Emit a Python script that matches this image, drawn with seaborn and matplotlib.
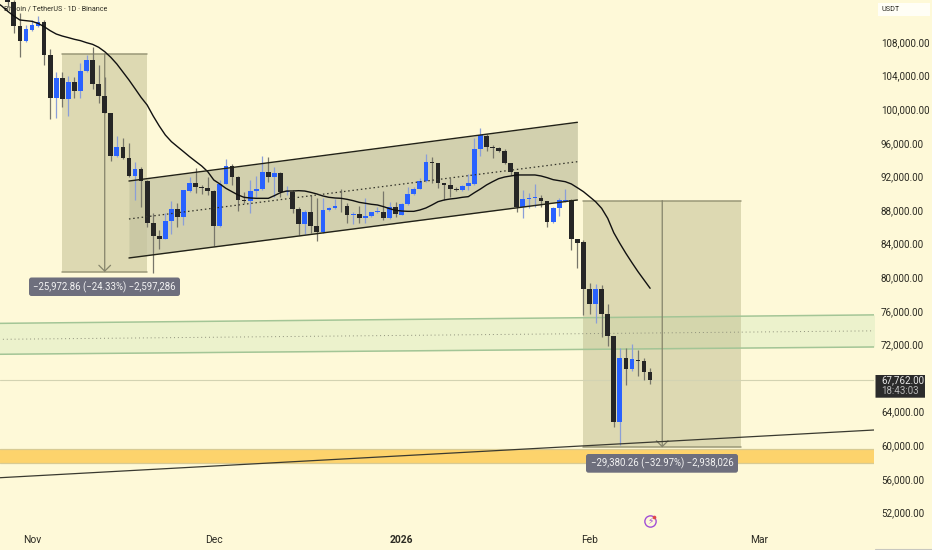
import matplotlib
matplotlib.use("Agg")
import matplotlib.pyplot as plt
from matplotlib.patches import Rectangle, FancyBboxPatch
import numpy as np
import pandas as pd
import seaborn as sns

# daily candles, first bar is 28 Oct 2025
opens = [113300,112800,109900,108160,109430,109950,110380,106450,101330,103750,
         101180,103200,102210,104590,105900,102960,101530,99590,94470,95500,
         94150,92050,92840,91410,86490,84950,84590,86690,88160,87210,
         90300,91210,90740,90660,90220,86140,91140,93280,91930,89190,
         89070,90260,90460,92560,91930,92410,90100,90180,88080,86300,
         87720,86100,85340,88000,88240,88520,88480,87370,87530,87050,
         87250,87720,87800,87050,88320,87450,88720,89910,90540,91450,
         93760,93640,91180,90940,90540,90380,90900,91100,95300,96810,
         95500,95380,95060,93560,92490,88320,89310,89390,89470,89030,
         86530,88200,89070,89190,84510,84150,78600,76810,78600,75620,
         73000,62800,70420,69110,70180,69980,68680]
closes = [112800,109900,108160,109510,109980,110420,106450,101330,103750,101180,
          103200,102210,104590,105900,102960,101530,99590,94470,95500,94150,
          92050,92840,91410,86490,84950,84590,86690,88160,87210,90380,
          91210,90740,90620,90220,86140,91140,93280,91930,89190,89070,
          90260,90460,92560,91930,92410,90100,90250,88090,86300,87720,
          86100,85340,88000,88240,88520,88440,87370,87530,87050,87250,
          87720,87880,87050,88320,87530,88720,89910,90540,91450,93760,
          93640,91260,90940,90540,90380,90900,91180,95300,96930,95500,
          95380,95060,93560,92490,88320,89310,89430,89510,89030,86530,
          88200,89190,89150,84510,84110,78600,76810,78640,75620,73000,
          62800,70420,69110,70220,69980,68680,67762]
highs = [113700,113000,111400,110020,110620,111100,110620,107130,104470,104470,
         103950,103790,105460,106450,107370,105260,103870,99590,96810,96530,
         95940,93750,93160,91570,87600,85620,87600,89110,88800,90380,
         91970,92960,90980,91970,90380,91570,94030,93480,92050,90180,
         91570,92050,94430,94350,93160,92560,90800,90380,88400,88000,
         89790,89390,89390,88400,89270,90460,88790,87800,88480,89390,
         87800,88400,90260,88990,88990,88790,90780,90700,91770,94670,
         94350,93640,91180,91770,90700,90980,92290,96530,97720,97050,
         95740,95540,95220,93640,92490,90380,90060,91100,89790,89110,
         88320,89390,90460,89300,84510,84430,79270,79190,79070,76810,
         73000,71530,71530,72050,71330,70340,69150]
lows = [112200,109110,106250,108040,109350,109830,105260,98870,98950,100220,
        99190,101290,101290,104470,102370,100700,99510,93870,94350,94030,
        91970,89190,88400,86020,80540,83320,84510,85150,86020,86180,
        90180,90060,89910,89790,83720,86020,91060,90980,87920,88790,
        87600,89590,90380,91370,89590,89590,89800,87600,85030,85150,
        85220,84350,85220,87920,88160,87800,86410,86330,86410,86410,
        87210,87600,86810,86970,87210,87370,88600,89790,90460,91330,
        91260,90580,89190,89510,90260,90260,90380,90980,94430,95060,
        94150,94950,93480,92170,87800,87010,88200,88400,88400,85940,
        86490,87290,88990,83240,81050,75500,75620,74510,72840,71810,
        62200,60030,67170,68870,68240,67760,67290]

# moving average, starts 26 Oct 2025
ma_values = [112800,112290,111650,111100,110620,110540,110460,110220,109830,109350,
             108950,108710,108520,108320,108160,107920,107720,107370,106850,106180,
             105380,104430,103480,102450,101410,100500,99190,98000,96930,96140,
             95540,94950,94350,93790,93240,92560,91570,91100,90580,90180,
             89790,89510,89430,89390,89390,89390,89710,90070,90260,90260,
             90300,90260,90100,89910,89670,89510,89430,89390,89270,89110,
             88910,88800,88680,88600,88400,88160,87960,87880,87840,87840,
             88000,88240,88600,88990,89190,89310,89390,89510,89590,90060,
             90500,90980,91370,91730,91930,92050,92170,92170,92170,92170,
             92050,91850,91610,91490,91370,91100,90650,90180,89590,88990,
             88200,87010,85300,84030,82840,81730,80660,79670,78680]

channel_dates = pd.to_datetime(["2025-11-17", "2026-01-30"])
channel_top = [91450, 98440]
channel_mid = [86930, 93750]
channel_low = [82290, 89190]

band_dates = pd.to_datetime(["2025-10-26", "2026-03-21"])
green_top = [74500, 75520]
green_mid = [72600, 73620]
green_low = [70820, 71700]

support_dates = pd.to_datetime(["2025-10-26", "2026-03-21"])
support_line = [56100, 61850]
yellow_top = 59510
yellow_low = 57920

measure_left = pd.to_datetime(["2025-11-06", "2025-11-20"])
measure_left_prices = [106590, 80617]
measure_left_mid = pd.Timestamp("2025-11-13")
measure_right = pd.to_datetime(["2026-01-31", "2026-02-26"])
measure_right_prices = [89111, 59731]
measure_right_mid = pd.Timestamp("2026-02-13")

last_price = 67762
price_ticks = list(range(52000, 76000, 4000))
price_ticks = [p for p in price_ticks if p != 68000] + list(range(76000, 112000, 4000))
month_ticks = pd.to_datetime(["2025-11-01", "2025-12-01", "2026-01-01", "2026-02-01", "2026-03-01"])
month_labels = ["Nov", "Dec", "2026", "Feb", "Mar"]

BG = "#fef9d8"
INK = "#2b2a22"
RECT = "#bdbb8e"
RECT_EDGE = "#9a9878"
PILL = "#6e6f7d"
ICON = "#a24fd6"

sns.set_theme(style="white", rc={"axes.facecolor": BG, "figure.facecolor": BG})
plt.rcParams["font.family"] = ["Roboto", "DejaVu Sans"]

fig = plt.figure(figsize=(9.32, 5.5), dpi=100)
ax = fig.add_axes([0, 26 / 550, 874 / 932, 524 / 550])


def fig_box(x0, y0, x1, y1, color, rounding=0.0):
    # box given in image pixels, y going down
    w, h = fig.get_size_inches() * fig.dpi
    patch = FancyBboxPatch((x0, h - y1), x1 - x0, y1 - y0,
                           boxstyle=f"round,pad=0,rounding_size={rounding}",
                           fc=color, ec="none", transform=None, zorder=10)
    fig.add_artist(patch)


def fig_label(x, y, text, **kw):
    fig.text(x / 932, 1 - y / 550, text, va="center", zorder=11, **kw)


dates = pd.date_range("2025-10-28", periods=len(opens), freq="D")
ma_dates = pd.date_range("2025-10-26", periods=len(ma_values), freq="D")
opens = np.array(opens)
closes = np.array(closes)
highs = np.array(highs)
lows = np.array(lows)
up = closes >= opens

# zones behind everything
ax.fill_between(band_dates, green_low, green_top, color="#ecf2cc", lw=0, zorder=1)
ax.axhspan(yellow_low, yellow_top, facecolor="#fdd36c", edgecolor="none", zorder=1)
ax.axhline(yellow_top, color="#d8cb94", lw=0.9, zorder=1.1)
ax.axhline(yellow_low, color="#d8cb94", lw=0.9, zorder=1.1)

for xs, prices in [(measure_left, measure_left_prices), (measure_right, measure_right_prices)]:
    ax.fill_between(xs, prices[1], prices[0], color=RECT, alpha=0.5, lw=0, zorder=1.5)
    ax.plot(xs, [prices[0], prices[0]], color=RECT_EDGE, lw=1.1, zorder=2)
    ax.plot(xs, [prices[1], prices[1]], color=RECT_EDGE, lw=1.1, zorder=2)

ax.fill_between(channel_dates, channel_low, channel_top, color="#c4c3a0", alpha=0.75, lw=0, zorder=1.6)

ax.axhline(last_price, color="#d3d3b2", lw=0.8, zorder=2)

sns.lineplot(x=band_dates, y=green_top, color="#a3c596", lw=1.1, ax=ax, zorder=2.2)
sns.lineplot(x=band_dates, y=green_low, color="#a3c596", lw=1.1, ax=ax, zorder=2.2)
ax.plot(band_dates, green_mid, color="#8d8f7a", lw=0.7, ls=(0, (1, 3)), zorder=2.2)

for mid, prices in [(measure_left_mid, measure_left_prices), (measure_right_mid, measure_right_prices)]:
    ax.annotate("", xy=(mid, prices[1]), xytext=(mid, prices[0]), zorder=2.3,
                arrowprops=dict(arrowstyle="->,head_length=0.3,head_width=0.3", color="#85846b",
                                lw=0.9, shrinkA=0, shrinkB=0, mutation_scale=14))

ax.text(0.0045, 0.982, "Bitcoin / TetherUS · 1D · Binance", transform=ax.transAxes,
        fontsize=5.1, color=INK, va="center", ha="left", zorder=2.5)

# candles
ax.vlines(dates[up], lows[up], highs[up], color="#8a9ed8", lw=0.9, zorder=3)
ax.vlines(dates[~up], lows[~up], highs[~up], color="#77766a", lw=0.9, zorder=3)
ax.bar(dates[up], np.maximum(closes[up] - opens[up], 60), bottom=opens[up], width=0.78,
       color="#2962ff", lw=0, zorder=4)
ax.bar(dates[~up], np.maximum(opens[~up] - closes[~up], 60), bottom=closes[~up], width=0.78,
       color="#262626", lw=0, zorder=4)

# lines on top
sns.lineplot(x=ma_dates, y=ma_values, color="#111111", lw=1.0, ax=ax, zorder=5)
sns.lineplot(x=channel_dates, y=channel_top, color="#222218", lw=1.0, ax=ax, zorder=5)
sns.lineplot(x=channel_dates, y=channel_low, color="#222218", lw=1.0, ax=ax, zorder=5)
ax.plot(channel_dates, channel_mid, color="#33332a", lw=0.9, ls=(0, (1.2, 2.2)), zorder=5)
sns.lineplot(x=support_dates, y=support_line, color="#3a3a30", lw=0.9, ax=ax, zorder=5)

# event icon at the bottom
icon_date = pd.Timestamp("2026-02-11")
ax.scatter([icon_date], [50980], s=66, facecolor=BG, edgecolor=ICON, lw=1.0, zorder=6, clip_on=False)
ax.text(icon_date, 50980, "\u26a1", color=ICON, fontsize=6.5, ha="center", va="center",
        family=["DejaVu Sans"], zorder=7, clip_on=False)
ax.scatter([pd.Timestamp("2026-02-11 16:00")], [51400], s=7, color="#e04848", lw=0, zorder=8, clip_on=False)

nov1 = pd.Timestamp("2025-11-01")
ax.set_xlim(nov1 - pd.Timedelta(days=32 / 6.06), nov1 + pd.Timedelta(days=842 / 6.06))
ax.set_ylim(50618, 113000)

ax.set_xticks(month_ticks)
ax.set_xticklabels(month_labels)
ax.set_yticks(price_ticks)
ax.set_yticklabels([f"{p:,.2f}" for p in price_ticks])
ax.yaxis.tick_right()
ax.tick_params(axis="x", length=0, pad=8.2, labelsize=7.4, colors=INK)
ax.tick_params(axis="y", length=0, pad=5, labelsize=7.1, colors=INK)
ax.get_xticklabels()[2].set_fontweight("bold")
for spine in ax.spines.values():
    spine.set_visible(False)
ax.set_xlabel("")
ax.set_ylabel("")
ax.grid(False)

# measure labels
fig_box(29, 277.5, 180, 296, PILL, rounding=2.5)
fig_label(104.5, 287, "\u221225,972.86 (\u221224.33%) \u22122,597,286", fontsize=6.9, color="#f2f2f2", ha="center")
fig_box(586, 454, 738, 472.7, PILL, rounding=2.5)
fig_label(662, 463.5, "\u221229,380.26 (\u221232.97%) \u22122,938,026", fontsize=6.9, color="#f2f2f2", ha="center")

# price scale extras
fig_box(878, 3, 930, 16, "#fffef6")
fig_label(882, 9.5, "USDT", fontsize=5.2, color=INK, ha="left")
fig_box(875.5, 375, 925, 397.7, "#2b2b2b")
fig_label(881, 380.7, "67,762.00", fontsize=7.0, color="#e8e8e8", ha="left")
fig_label(881, 391, "18:43:03", fontsize=7.0, color="#b8b8b8", ha="left")
fig.add_artist(plt.Line2D([875 / 932, 1], [1 / 550, 1 / 550], color="#c8c8c0", lw=0.8,
                          transform=fig.transFigure))

fig.savefig("out.png", dpi=100)
